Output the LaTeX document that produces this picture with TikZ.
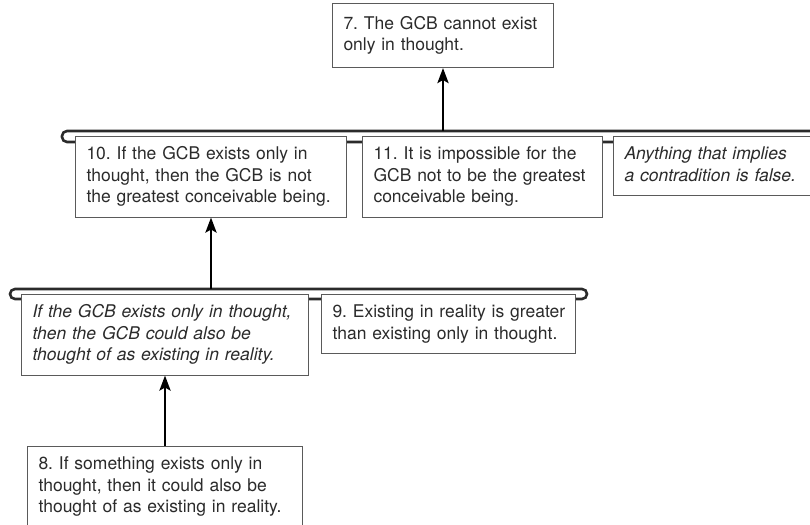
\documentclass[tikz,border=0pt]{standalone}
\usepackage{fontspec}
\setmainfont{TeX Gyre Heros}
\usetikzlibrary{arrows.meta}
\definecolor{ink}{HTML}{2B2B2B}
\definecolor{rule}{HTML}{5A5A5A}
\newcommand\argfont{\fontsize{17.5}{21.5}\selectfont\frenchspacing}
\newcommand\lines[1]{\begin{tabular}{@{}l@{}}#1\end{tabular}}

\begin{document}
\begin{tikzpicture}[x=1pt,y=-1pt,
  claim/.style={draw=rule,fill=white,text=ink,line width=1pt,anchor=north west,
    align=left,inner xsep=11pt,inner ysep=8pt,font=\argfont},
  brace/.style={draw=ink,line width=2.6pt,rounded corners=5pt},
  support/.style={draw=black,line width=2.8pt,-{Stealth[length=15pt,width=11pt,inset=3pt]}}]
\useasboundingbox (0,0) rectangle (810,524);

% brackets joining premises
\draw[brace] (62,131) rectangle (840,142);
\draw[brace] (10,289) rectangle (587,299);

% conclusion
\node[claim,text width=199pt,minimum height=64pt] (c7) at (332,3)
  {\lines{7. The GCB cannot exist\\only in thought.}};

% first row
\node[claim,text width=249pt] (c10) at (75,136)
  {\lines{10. If the GCB exists only in\\thought, then the GCB is not\\the greatest conceivable being.}};
\node[claim,text width=218pt] (c11) at (362,136)
  {\lines{11. It is impossible for the\\GCB not to be the greatest\\conceivable being.}};
\node[claim,text width=178pt] (law) at (613,136)
  {\itshape\lines{Anything that implies\\a contradition is false.}};

% second row
\node[claim,text width=265pt] (hyp) at (21,294)
  {\itshape\lines{If the GCB exists only in thought,\\then the GCB could also be\\thought of as existing in reality.}};
\node[claim,text width=232pt] (c9) at (321,294)
  {\lines{9. Existing in reality is greater\\than existing only in thought.}};

% basic premise
\node[claim,text width=253pt] (c8) at (27,446)
  {\lines{8. If something exists only in\\thought, then it could also be\\thought of as existing in reality.}};

% support arrows
\coordinate (j7) at (c7.south |- 0,131);
\coordinate (j10) at (c10.south |- 0,289);
\draw[support] (j7) -- (c7.south);
\draw[support] (j10) -- (c10.south);
\draw[support] (c8.north) -- (hyp.south);
\end{tikzpicture}
\end{document}
